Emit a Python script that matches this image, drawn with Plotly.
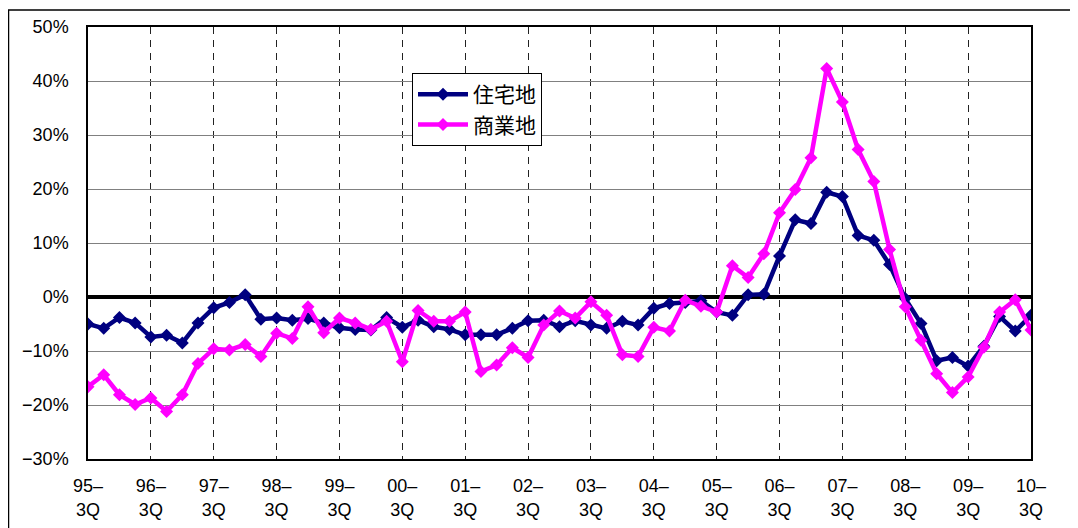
import plotly.graph_objects as go

# quarter categories 95-3Q ... 10-3Q
years = [f"{y % 100:02d}" for y in range(1995, 2011)]
quarters = []
for i, y in enumerate(years):
    for q in (1, 2, 3, 4):
        if (i == 0 and q < 3) or (i == len(years) - 1 and q > 3):
            continue
        quarters.append(f"{y}-{q}Q")

residential = [
    -5.0, -5.8, -3.8, -4.8, -7.4, -7.1, -8.5, -4.8, -2.0, -1.0,
    0.4, -4.1, -3.9, -4.3, -4.0, -4.8, -5.7, -6.0, -6.1, -3.8,
    -5.6, -4.3, -5.5, -6.0, -7.0, -7.0, -7.0, -5.8, -4.4, -4.3,
    -5.5, -4.4, -5.2, -5.8, -4.5, -5.2, -2.1, -1.2, -1.0, -0.7,
    -2.8, -3.4, 0.4, 0.5, 7.6, 14.3, 13.6, 19.4, 18.6, 11.4,
    10.5, 6.0, -0.3, -4.9, -11.8, -11.2, -12.8, -9.1, -3.6, -6.3,
    -3.4,
]
commercial = [
    -16.6, -14.4, -18.1, -19.9, -18.7, -21.2, -18.1, -12.3, -9.6, -9.8,
    -8.8, -11.0, -6.7, -7.7, -1.8, -6.6, -3.9, -4.8, -6.0, -4.5,
    -12.0, -2.5, -4.5, -4.5, -2.8, -13.8, -12.6, -9.4, -11.2, -5.2,
    -2.6, -3.9, -0.9, -3.4, -10.7, -11.0, -5.6, -6.3, -0.6, -1.7,
    -2.8, 5.8, 3.6, 8.0, 15.6, 19.9, 25.8, 42.3, 36.1, 27.3,
    21.4, 8.8, -1.8, -8.0, -14.2, -17.7, -14.8, -9.3, -2.8, -0.5,
    -6.1,
]
series_names = ["住宅地", "商業地"]
series_colors = ["#000080", "#FF00FF"]

tick_vals = [q for q in quarters if q.endswith("3Q")]
tick_text = [q.replace("-3Q", "–<br>3Q") for q in tick_vals]

font_family = "Liberation Sans, Arial, Noto Sans CJK JP, sans-serif"

W, H = 1070, 520
L, T = 80, 19
PW, PH = 943, 432

fig = go.Figure()
for name, vals, col in zip(series_names, [residential, commercial], series_colors):
    fig.add_trace(go.Scatter(
        x=quarters, y=vals, name=name, mode="lines+markers",
        line=dict(color=col, width=4.5),
        marker=dict(symbol="diamond", size=10, color=col),
    ))

fig.update_layout(
    width=W, height=H,
    margin=dict(l=L, r=W - L - PW, t=T, b=H - T - PH),
    paper_bgcolor="white", plot_bgcolor="white",
    font=dict(family=font_family, size=18, color="black"),
    legend=dict(
        x=(412 - 88) / PW, y=(459 - 73) / PH, xanchor="left", yanchor="top",
        bgcolor="white", bordercolor="black", borderwidth=1,
        font=dict(size=21, family="Noto Sans CJK JP, sans-serif"),
        tracegroupgap=0, itemwidth=50,
    ),
    showlegend=True,
)
fig.update_xaxes(
    type="category", categoryorder="array", categoryarray=quarters,
    range=[0, len(quarters) - 1],
    tickmode="array", tickvals=tick_vals, ticktext=tick_text,
    showgrid=True, gridcolor="#222222", gridwidth=1, griddash="7px,6px",
    showline=True, linecolor="black", linewidth=1.5, mirror=True,
    ticks="", tickfont=dict(size=18), ticklabelstandoff=10,
    automargin=False,
)
fig.update_yaxes(
    range=[-30, 50], dtick=10, ticksuffix="%",
    showgrid=True, gridcolor="#808080", gridwidth=1,
    zeroline=True, zerolinecolor="black", zerolinewidth=4,
    showline=True, linecolor="black", linewidth=1.5, mirror=True,
    ticks="", tickfont=dict(size=18), ticklabelstandoff=14,
    automargin=False,
)
# outer chart frame
fig.add_shape(type="rect", xref="paper", yref="paper",
              x0=(0.5 - L) / PW, x1=(W + 20 - L) / PW,
              y0=-(H - T - PH + 20) / PH, y1=(T - 2 + PH) / PH,
              line=dict(color="black", width=1.5), fillcolor="rgba(0,0,0,0)",
              layer="below")

fig.write_html("out.html")
